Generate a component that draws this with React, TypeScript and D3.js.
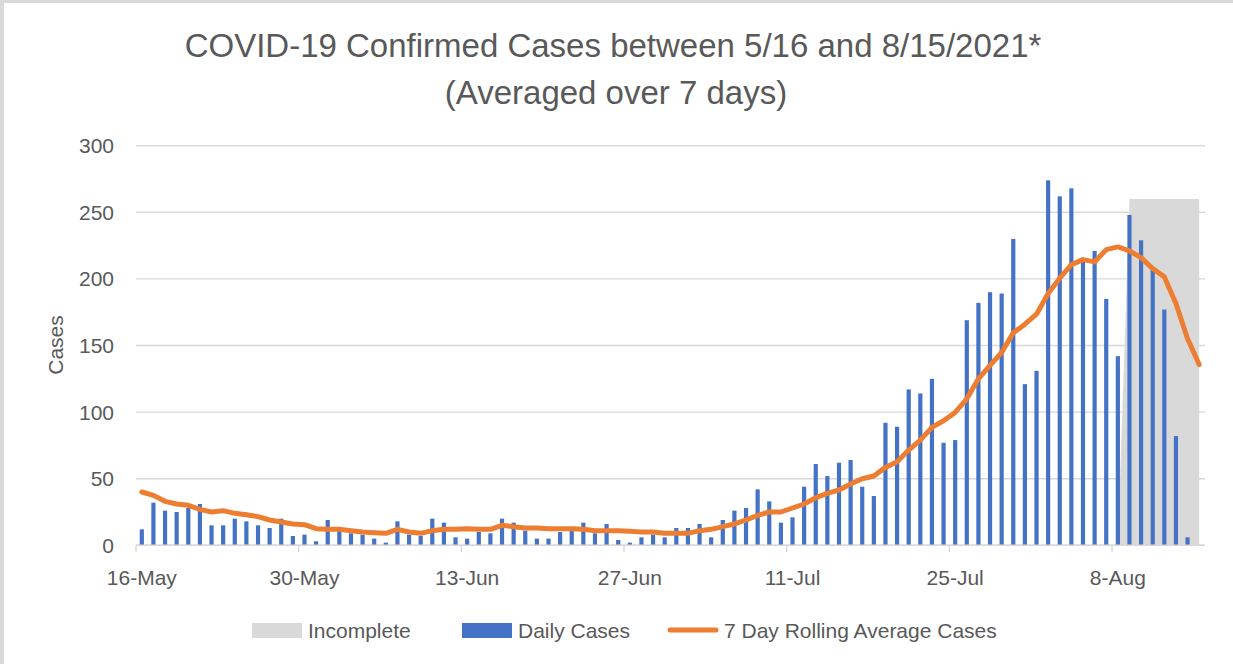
import { useEffect, useRef } from "react"
import * as d3 from "d3"

// days shown on the chart (16 May - 15 Aug 2021)
const firstDay = new Date(2021, 4, 16)
const lastDay = new Date(2021, 7, 15)
const days = d3.timeDay.range(firstDay, d3.timeDay.offset(lastDay, 1))

const dailyCases = [
  12, 32, 26, 25, 28, 31, 15, 15, 20, 18, 15, 13, 20, 7, 8, 3, 19, 11, 9, 8,
  5, 2, 18, 8, 7, 20, 17, 6, 5, 10, 9, 20, 17, 11, 5, 5, 10, 11, 17, 9,
  16, 4, 2, 6, 8, 6, 13, 13, 16, 6, 19, 26, 28, 42, 33, 17, 21, 44, 61, 52,
  62, 64, 44, 37, 92, 89, 117, 114, 125, 77, 79, 169, 182, 190, 189, 230, 121, 131, 274, 262,
  268, 213, 221, 185, 142, 248, 229, 207, 177, 82, 6, 0,
]

const rollingAverage = [
  40, 37.5, 33, 31, 30, 27, 25, 26, 24, 23, 21.5, 19, 17.5, 16, 15.5, 12.5, 12, 12, 11, 10,
  9.5, 9, 12, 10, 9, 11, 12, 12, 12.5, 12, 12, 15, 14, 13, 13, 12.5, 12.5, 12.5, 12, 11,
  11, 11, 10.5, 10, 10, 9, 9, 9, 11, 12, 14, 16, 19, 22.5, 25, 25, 28, 31, 35.75, 39,
  41.5, 46, 50, 52, 58.5, 62.75, 71.5, 79, 88.5, 93.5, 99.75, 110, 125, 135, 144.75, 159.5, 166, 173.5, 189, 200.5,
  210.75, 214.5, 212.75, 222, 224, 221, 216, 207.75, 201.5, 181.5, 155, 135.75,
]

// incomplete period shading, starting 8 Aug
const incompleteStart = new Date(2021, 7, 8)
const incomplete = [0, 260, 260, 260, 260, 260, 260, 260]

const tickLabels = ["16-May", "30-May", "13-Jun", "27-Jun", "11-Jul", "25-Jul", "8-Aug"]
const yTicks = [0, 50, 100, 150, 200, 250, 300]

const legendItems = [
  { name: "Incomplete", kind: "area", color: "#d9d9d9" },
  { name: "Daily Cases", kind: "bar", color: "#4472c4" },
  { name: "7 Day Rolling Average Cases", kind: "line", color: "#ed7d31" },
]

export default function App({ width = 1233, height = 664 }) {
  const svgRef = useRef<SVGSVGElement>(null)

  useEffect(() => {
    document.body.style.margin = "0"
    if (!svgRef.current) return

    const svg = d3.select(svgRef.current)
    svg.selectAll("*").remove()

    const font = "'Liberation Sans', Arial, sans-serif"
    const textColor = "#595959"
    const gridColor = "#d9d9d9"

    const plot = { left: 136, right: 1205, top: 145.7, bottom: 545.3 }

    const idx = d3.range(days.length)
    const xScale = d3.scaleBand<number>().domain(idx).range([plot.left, plot.right]).padding(0)
    const cx = (i: number) => (xScale(i) as number) + xScale.bandwidth() / 2
    const yScale = d3.scaleLinear().domain([0, 300]).range([plot.bottom, plot.top])

    // white background + frame strips
    svg.append("rect").attr("width", width).attr("height", height).attr("fill", "#fff")
    svg.append("rect").attr("width", width).attr("height", 3).attr("fill", gridColor)
    svg.append("rect").attr("width", 4).attr("height", height).attr("fill", gridColor)

    // Title
    const title = svg.append("g").attr("font-family", font).attr("fill", textColor)
      .attr("text-anchor", "middle").attr("font-size", 33)
    title.append("text").attr("x", 613).attr("y", 57)
      .text("COVID-19 Confirmed Cases between 5/16 and 8/15/2021*")
    title.append("text").attr("x", 616).attr("y", 104).text("(Averaged over 7 days)")

    // gridlines + y labels
    const yAxis = svg.append("g").attr("font-family", font).attr("font-size", 21).attr("fill", textColor)
    yTicks.forEach(t => {
      svg.append("line")
        .attr("x1", plot.left).attr("x2", plot.right)
        .attr("y1", yScale(t)).attr("y2", yScale(t))
        .attr("stroke", gridColor).attr("stroke-width", 1.4)
      yAxis.append("text")
        .attr("x", 114).attr("y", yScale(t))
        .attr("text-anchor", "end").attr("dominant-baseline", "central")
        .text(t)
    })

    svg.append("text")
      .attr("transform", `translate(63, 345) rotate(-90)`)
      .attr("text-anchor", "middle")
      .attr("font-family", font).attr("font-size", 21).attr("fill", textColor)
      .text("Cases")

    // Incomplete area
    const start = d3.timeDay.count(firstDay, incompleteStart)
    const area = d3.area<number>()
      .x((_, k) => cx(start + k))
      .y0(yScale(0))
      .y1(d => yScale(d))
    svg.append("path").attr("d", area(incomplete)).attr("fill", "#d9d9d9")

    // Bars
    const bw = xScale.bandwidth() * 0.36
    svg.append("g").selectAll("rect").data(dailyCases)
      .enter()
      .append("rect")
      .attr("x", (_, i) => cx(i) - bw / 2)
      .attr("y", d => yScale(d))
      .attr("width", bw)
      .attr("height", d => yScale(0) - yScale(d))
      .attr("fill", "#4472c4")

    // x axis line + ticks + labels
    svg.append("line")
      .attr("x1", plot.left).attr("x2", plot.right)
      .attr("y1", plot.bottom).attr("y2", plot.bottom)
      .attr("stroke", gridColor).attr("stroke-width", 1.4)

    const parse = d3.timeParse("%d-%b-%Y")
    const xAxis = svg.append("g").attr("font-family", font).attr("font-size", 21).attr("fill", textColor)
    tickLabels.forEach(lbl => {
      const i = d3.timeDay.count(firstDay, parse(lbl + "-2021") as Date)
      svg.append("line")
        .attr("x1", xScale(i) as number).attr("x2", xScale(i) as number)
        .attr("y1", plot.bottom).attr("y2", plot.bottom + 7)
        .attr("stroke", gridColor).attr("stroke-width", 1.4)
      xAxis.append("text")
        .attr("x", cx(i)).attr("y", 585)
        .attr("text-anchor", "middle")
        .text(lbl)
    })

    // Rolling average line
    const line = d3.line<number>()
      .x((_, i) => cx(i))
      .y(d => yScale(d))
    svg.append("path")
      .attr("d", line(rollingAverage))
      .attr("fill", "none")
      .attr("stroke", "#ed7d31")
      .attr("stroke-width", 5)
      .attr("stroke-linejoin", "round")
      .attr("stroke-linecap", "round")

    // Legend
    const legendX = [252, 462, 668]
    const legend = svg.append("g").attr("font-family", font).attr("font-size", 21).attr("fill", textColor)
    legendItems.forEach((item, k) => {
      const lx = legendX[k]
      if (item.kind === "line") {
        legend.append("line")
          .attr("x1", lx + 2).attr("x2", lx + 48)
          .attr("y1", 630).attr("y2", 630)
          .attr("stroke", item.color).attr("stroke-width", 5).attr("stroke-linecap", "round")
      } else {
        legend.append("rect")
          .attr("x", lx).attr("y", 623).attr("width", 50).attr("height", 15)
          .attr("fill", item.color)
      }
      legend.append("text")
        .attr("x", lx + 56).attr("y", 630)
        .attr("dominant-baseline", "central")
        .text(item.name)
    })
  }, [])

  return (
    <svg
      ref={svgRef}
      width={width}
      height={height}
      viewBox={`0 0 ${width} ${height}`}
      style={{ display: "block" }}
      xmlns="http://www.w3.org/2000/svg"
    ></svg>
  )
}
